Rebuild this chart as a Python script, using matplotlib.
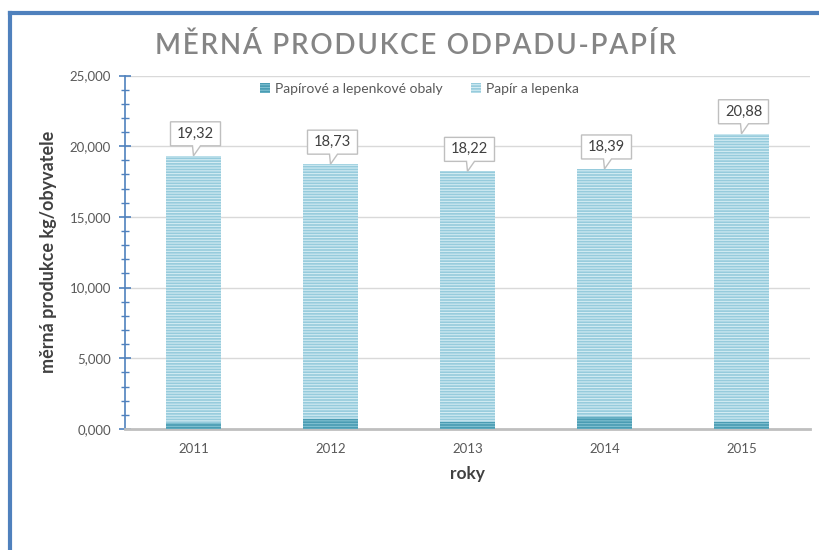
import matplotlib
matplotlib.use("Agg")
import matplotlib.pyplot as plt
import matplotlib.transforms as mtransforms
from matplotlib.patches import Polygon
from matplotlib.lines import Line2D
from matplotlib.ticker import MultipleLocator, FuncFormatter

years = ["2011", "2012", "2013", "2014", "2015"]
# totals shown in the data labels (kg/obyvatele)
totals = [19.32, 18.73, 18.22, 18.39, 20.88]
# bottom segment
obaly = [0.42, 0.70, 0.50, 0.87, 0.50]
papir = [t - o for t, o in zip(totals, obaly)]
labels = ["19,32", "18,73", "18,22", "18,39", "20,88"]
title = "MĚRNÁ PRODUKCE ODPADU-PAPÍR"

plt.rcParams["font.family"] = ["Lato", "DejaVu Sans"]
plt.rcParams["hatch.linewidth"] = 0.8

fig = plt.figure(figsize=(8.19, 5.5), dpi=100)
ax = fig.add_axes([125 / 819, 1 - 429 / 550, 685 / 819, 353.5 / 550])

x = range(len(years))
ax.bar(x, obaly, width=0.4, color="#4a9cb3", edgecolor="#80c0d1",
       hatch="------", linewidth=0, label="Papírové a lepenkové obaly", zorder=3)
ax.bar(x, papir, width=0.4, bottom=obaly, color="#96cbdc", edgecolor="#d3ecf3",
       hatch="------", linewidth=0, label="Papír a lepenka", zorder=3)

ax.set_xlim(-0.5, 4.5)
ax.set_ylim(0, 25)
ax.set_xticks(list(x))
ax.set_xticklabels(years)
ax.yaxis.set_major_locator(MultipleLocator(5))
ax.yaxis.set_minor_locator(MultipleLocator(1))
ax.yaxis.set_major_formatter(FuncFormatter(lambda v, p: f"{v:.3f}".replace(".", ",")))

ax.grid(axis="y", color="#d9d9d9", linewidth=1, zorder=0)
for s in ["top", "right"]:
    ax.spines[s].set_visible(False)
ax.spines["left"].set_color("#4f81bd")
ax.spines["left"].set_linewidth(1.2)
ax.spines["bottom"].set_color("#bfbfbf")
ax.spines["bottom"].set_linewidth(2)

ax.tick_params(axis="y", which="major", direction="inout", length=8, width=1.2,
               color="#4f81bd", labelcolor="#595959", labelsize=9.5, pad=6)
ax.tick_params(axis="y", which="minor", direction="inout", length=6, width=1,
               color="#4f81bd")
ax.tick_params(axis="x", length=0, labelcolor="#595959", labelsize=9.5, pad=10)

ax.set_ylabel("měrná produkce kg/obyvatele", fontsize=13, fontweight="bold",
              color="#404040", labelpad=9)
ax.set_xlabel("roky", fontsize=12.5, fontweight="bold", color="#404040", labelpad=8)

# letter-spaced title
fig.text(416 / 819, 1 - 45 / 550, "\u200a".join(title), ha="center",
         va="center", fontsize=20, fontweight="semibold", color="#858585")

ax.legend(loc="center", bbox_to_anchor=(0.43, 1 - (89 - 75.5) / 353.5), ncol=2,
          frameon=False, fontsize=10, handlelength=0.7, handleheight=0.7,
          handletextpad=0.4, columnspacing=2.0, labelcolor="#595959")

# callout data labels (shape in pixels relative to the bar top)
shape = [(-1, 10), (-23, 10), (-23, 34), (27, 34), (27, 10), (7, 10), (0, 0)]
for i, t in enumerate(totals):
    tr = mtransforms.Affine2D() + mtransforms.ScaledTranslation(i, t, ax.transData)
    ax.add_patch(Polygon(shape, closed=True, transform=tr, facecolor="white",
                         edgecolor="#bfbfbf", linewidth=1, zorder=5, clip_on=False))
    ax.text(2, 22, labels[i], transform=tr, ha="center", va="center",
            fontsize=10.5, color="#404040", zorder=6)

# blue frame
fig.add_artist(Line2D([10 / 819, 1.0], [1 - 13 / 550] * 2, color="#4f81bd",
                      linewidth=3, transform=fig.transFigure))
fig.add_artist(Line2D([10 / 819] * 2, [0, 1 - 13 / 550], color="#4f81bd",
                      linewidth=3, transform=fig.transFigure))

fig.savefig("out.png", dpi=100)
